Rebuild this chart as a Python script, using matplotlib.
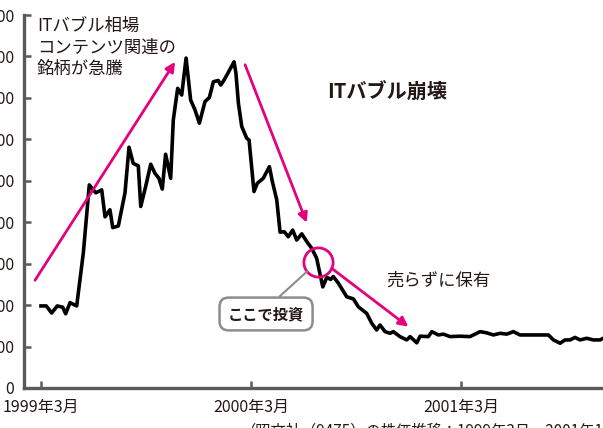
import matplotlib.pyplot as plt

plt.rcParams['font.family'] = ['Noto Sans CJK JP', 'DejaVu Sans']

# 株価（円）: 1999年3月からの経過月数と株価
months = [0.0, 0.3, 0.61, 0.93, 1.24, 1.41, 1.66, 2.04, 2.42, 2.76,
          3.13, 3.47, 3.66, 3.94, 4.1, 4.42, 4.8, 5.03, 5.27, 5.56,
          5.7, 5.98, 6.27, 6.51, 6.74, 6.93, 7.12, 7.41, 7.56, 7.81,
          8.04, 8.29, 8.55, 8.8, 9.05, 9.37, 9.62, 9.85, 10.13, 10.27,
          10.46, 10.67, 11.03, 11.14, 11.28, 11.47, 11.75, 11.89, 12.17, 12.36,
          12.7, 13.05, 13.22, 13.47, 13.66, 13.9, 14.13, 14.38, 14.61, 14.9,
          15.19, 15.47, 15.75, 16.1, 16.33, 16.55, 16.7, 16.99, 17.47, 17.85,
          18.13, 18.61, 18.9, 19.18, 19.37, 19.66, 19.94, 20.13, 20.51, 20.9,
          21.09, 21.47, 21.66, 22.13, 22.33, 22.7, 22.99, 23.37, 23.94, 24.51,
          25.09, 25.47, 25.85, 26.23, 26.61, 26.99, 27.37, 27.94, 28.51, 28.99,
          29.28, 29.66, 29.94, 30.23, 30.51, 30.8, 31.18, 31.56, 31.94, 32.17]
price = [1980, 1980, 1810, 1980, 1950, 1790, 2060, 1980, 3260, 4900,
         4710, 4780, 4130, 4300, 3870, 3910, 4710, 5810, 5420, 5360,
         4380, 4860, 5400, 5180, 5060, 4800, 5640, 5060, 6470, 7230,
         7070, 7960, 6950, 6710, 6390, 6910, 7010, 7390, 7420, 7310,
         7430, 7590, 7870, 7590, 6870, 6310, 6030, 5980, 4740, 4940,
         5060, 5340, 4980, 4540, 3760, 3770, 3650, 3810, 3570, 3720,
         3530, 3370, 3130, 2440, 2670, 2620, 2690, 2530, 2200, 2150,
         1960, 1800, 1560, 1400, 1520, 1360, 1320, 1360, 1240, 1160,
         1240, 1090, 1250, 1240, 1360, 1280, 1300, 1240, 1250, 1240,
         1360, 1330, 1280, 1320, 1300, 1360, 1280, 1280, 1280, 1280,
         1160, 1080, 1160, 1160, 1220, 1160, 1200, 1160, 1160, 1210]

x_ticks = [0, 12, 24]
x_labels = ['1999年3月', '2000年3月', '2001年3月']
y_ticks = list(range(0, 9001, 1000))

pink = '#e4007f'
ink = '#231815'
axis_gray = '#5a5a5a'

fig = plt.figure(figsize=(6.03, 4.28), dpi=100)
ax = fig.add_axes([24 / 603, 40 / 428, 579 / 603, 373 / 428])

ax.plot(months, price, color='black', linewidth=2.6, clip_on=False)

ax.set_xlim(-0.97, 32.11)
ax.set_ylim(0, 9000)
ax.set_xticks(x_ticks)
ax.set_xticklabels(x_labels)
ax.set_yticks(y_ticks)
ax.set_yticklabels([str(v) for v in y_ticks])

for side in ['top', 'right']:
    ax.spines[side].set_visible(False)
for side in ['left', 'bottom']:
    ax.spines[side].set_color(axis_gray)
    ax.spines[side].set_linewidth(2.4)
ax.tick_params(axis='both', direction='in', length=5, width=1.8,
               color=axis_gray, labelcolor=ink, labelsize=11.5)
ax.tick_params(axis='x', pad=8)
ax.tick_params(axis='y', pad=7)

# 注釈
ax.text(-0.23, 8950, 'ITバブル相場\nコンテンツ関連の\n銘柄が急騰', ha='left', va='top',
        fontsize=12.5, color=ink, linespacing=1.25)
ax.text(19.77, 7143, 'ITバブル崩壊', ha='center', va='center',
        fontsize=14.5, fontweight='bold', color=ink)
ax.text(22.7, 2590, '売らずに保有', ha='center', va='center',
        fontsize=12.5, color=ink)

arrow = dict(arrowstyle='-|>', color=pink, lw=2, mutation_scale=14,
             shrinkA=0, shrinkB=0)
ax.annotate('', xy=(7.66, 7870), xytext=(-0.34, 2600), arrowprops=arrow)
ax.annotate('', xy=(15.18, 3990), xytext=(11.66, 7800), arrowprops=arrow)
ax.annotate('', xy=(20.99, 1479), xytext=(16.61, 2888), arrowprops=arrow)

ax.plot([15.85], [3048], marker='o', markersize=21, markerfacecolor='none',
        markeredgecolor=pink, markeredgewidth=2)

ax.plot([13.66, 15.19], [2220, 2807], color='#8c8c8c', linewidth=1.5)
ax.text(12.86, 1786, 'ここで投資', ha='center', va='center', fontsize=11,
        fontweight='bold', color=ink,
        bbox=dict(boxstyle='round,pad=0.55,rounding_size=0.6', facecolor='white',
                  edgecolor='#8c8c8c', linewidth=1.8))

fig.text(240 / 603, 5 / 428, '（昭文社（9475）の株価推移：1999年3月～2001年12月）',
         ha='left', va='top', fontsize=11, color=ink)

fig.savefig('out.png', dpi=100)
